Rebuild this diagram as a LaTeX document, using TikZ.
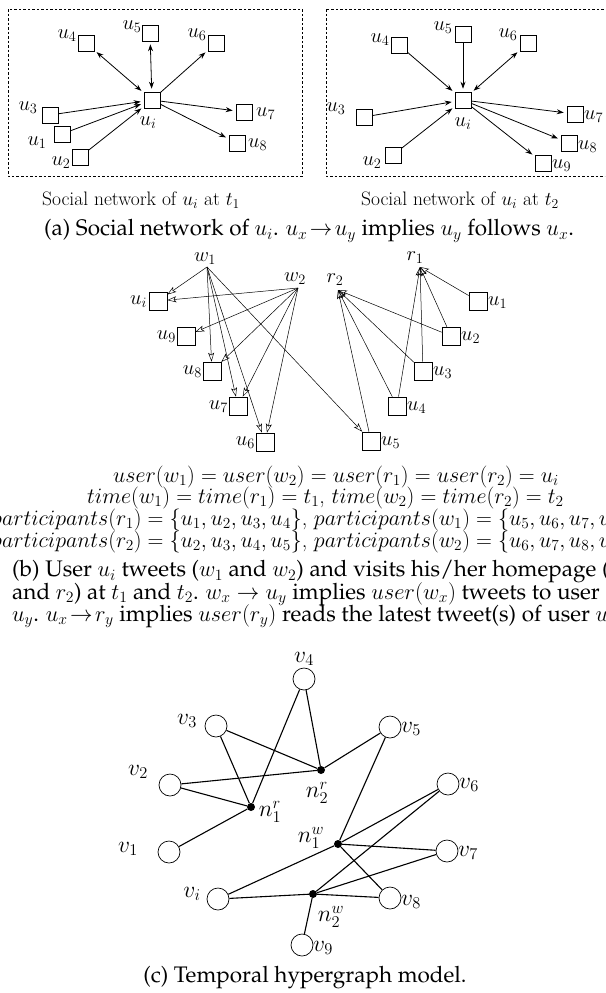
\documentclass[tikz,border=0pt]{standalone}
\usepackage[T1,TU]{fontenc}
\DeclareFontShape{OML}{cmm}{m}{it}{<-6>cmmi5 <6-7>cmmi6 <7-8>cmmi7 <8-9>cmmi8 <9-10>cmmi9 <10-12>cmmi10 <12->cmmi12}{}
\DeclareFontShape{OMS}{cmsy}{m}{n}{<-6>cmsy5 <6-7>cmsy6 <7-8>cmsy7 <8-9>cmsy8 <9-10>cmsy9 <10->cmsy10}{}
\DeclareFontShape{OT1}{cmr}{m}{n}{<-6>cmr5 <6-7>cmr6 <7-8>cmr7 <8-9>cmr8 <9-10>cmr9 <10-12>cmr10 <12-17>cmr12 <17->cmr17}{}
\DeclareFontShape{OMX}{cmex}{m}{n}{<->cmex10}{}
\usetikzlibrary{arrows.meta}
\newcommand\palfont{\fontencoding{T1}\fontfamily{ppl}\selectfont}
\begin{document}
\begin{tikzpicture}[x=1pt,y=-1pt,
  sq/.style={draw, minimum size=16pt, inner sep=0pt, line width=0.6pt},
  sqb/.style={draw, minimum size=18pt, inner sep=0pt, line width=0.6pt},
  lab/.style={inner sep=0pt, font=\fontsize{20.5}{22}\selectfont},
  labc/.style={inner sep=0pt, font=\fontsize{23.5}{25}\selectfont},
  arr/.style={-{Stealth[length=7pt,width=5pt]}, line width=0.8pt, shorten >=3pt},
  barr/.style={{Stealth[length=7pt,width=5pt]}-{Stealth[length=7pt,width=5pt]}, line width=0.8pt, shorten >=3pt, shorten <=3pt},
  oarr/.style={-{Stealth[open,length=9pt,width=6pt,inset=2pt]}, line width=0.5pt},
  circ/.style={draw, circle, minimum size=22pt, inner sep=0pt, line width=0.7pt},
  hdot/.style={fill, circle, minimum size=8pt, inner sep=0pt},
  hedge/.style={line width=1.1pt},
  dbox/.style={draw, dash pattern=on 2.5pt off 2pt, line width=0.6pt},
  captxt/.style={inner sep=0pt, font=\fontsize{22.5}{24}\selectfont\palfont},
  mathtxt/.style={inner sep=0pt, font=\fontsize{22}{22}\selectfont},
  scap/.style={inner sep=0pt, font=\fontsize{19.5}{21}\selectfont}]
\useasboundingbox (0,0) rectangle (605,993);
\clip (0,0) rectangle (605,993);
% ---------- panel (a) left ----------
\draw[dbox] (8,9) rectangle (302,176);
\node[sq] (Lui) at (152,100) {};
\node[sq] (Lu5) at (150,33) {};
\node[sq] (Lu4) at (86,43) {};
\node[sq] (Lu6) at (216,43) {};
\node[sq] (Lu3) at (50,115) {};
\node[sq] (Lu1) at (62,134) {};
\node[sq] (Lu2) at (80,157) {};
\node[sq] (Lu7) at (244,112) {};
\node[sq] (Lu8) at (237,143) {};
\node[lab] (Llui) at (148,123) {$u_i$};
\node[lab] (Llu5) at (132,27) {$u_5$};
\node[lab] (Llu4) at (67,36) {$u_4$};
\node[lab] (Llu6) at (197,35) {$u_6$};
\node[lab] (Llu3) at (28,108) {$u_3$};
\node[lab] (Llu1) at (37,143) {$u_1$};
\node[lab] (Llu2) at (61,163) {$u_2$};
\node[lab, anchor=west] (Llu7) at (256,114) {$u_7$};
\node[lab, anchor=west] (Llu8) at (248,145) {$u_8$};
\draw[barr] (Lu4) -- (Lui);
\draw[barr] (Lu5) -- (Lui);
\draw[arr] (Lui) -- (Lu6);
\draw[arr] (Lu3) -- (Lui);
\draw[arr] (Lu1) -- (Lui);
\draw[arr] (Lu2) -- (Lui);
\draw[arr] (Lui) -- (Lu7);
\draw[arr] (Lui) -- (Lu8);
\node[scap] (Lcap) at (141,200) {Social network of $u_i$ at $t_1$};
% ---------- panel (a) right ----------
\draw[dbox] (326,9) rectangle (615,176);
\node[sq] (Rui) at (463,100) {};
\node[sq] (Ru5) at (463,34) {};
\node[sq] (Ru4) at (399,45) {};
\node[sq] (Ru6) at (528,43) {};
\node[sq] (Ru3) at (364,117) {};
\node[sq] (Ru2) at (393,155) {};
\node[sq] (Ru7) at (575,114) {};
\node[sq] (Ru8) at (569,143) {};
\node[sq] (Ru9) at (543,163) {};
\node[lab] (Rlui) at (463,124) {$u_i$};
\node[lab] (Rlu5) at (443,28) {$u_5$};
\node[lab] (Rlu4) at (380,40) {$u_4$};
\node[lab] (Rlu6) at (508,35) {$u_6$};
\node[lab] (Rlu3) at (336,109) {$u_3$};
\node[lab] (Rlu2) at (372,163) {$u_2$};
\node[lab, anchor=west] (Rlu7) at (584,117) {$u_7$};
\node[lab, anchor=west] (Rlu8) at (578,147) {$u_8$};
\node[lab, anchor=west] (Rlu9) at (552,166) {$u_9$};
\draw[arr] (Ru4) -- (Rui);
\draw[arr] (Ru5) -- (Rui);
\draw[barr] (Ru6) -- (Rui);
\draw[arr] (Ru3) -- (Rui);
\draw[arr] (Ru2) -- (Rui);
\draw[arr] (Rui) -- (Ru7);
\draw[arr] (Rui) -- (Ru8);
\draw[arr] (Rui) -- (Ru9);
\node[scap] (Rcap) at (460,200) {Social network of $u_i$ at $t_2$};
\node[captxt] (capa) at (309,231) {(a) Social network of $u_i$. $u_x\!\rightarrow\! u_y$ implies $u_y$ follows $u_x$.};
% ---------- panel (b) ----------
\coordinate (w1p) at (207,267);
\coordinate (w2p) at (298,288);
\coordinate (r1p) at (420,267);
\coordinate (r2p) at (338,290);
\node[lab] (w1) at (205,259) {$w_1$};
\node[lab] (w2) at (295,279) {$w_2$};
\node[lab] (r1) at (415,258) {$r_1$};
\node[lab] (r2) at (335,280) {$r_2$};
\node[sqb] (Bui) at (158,301) {};
\node[sqb] (Bu9) at (186,336) {};
\node[sqb] (Bu8) at (212,371) {};
\node[sqb] (Bu7) at (238,406) {};
\node[sqb] (Bu6) at (265,442) {};
\node[sqb] (Bu1) at (478,301) {};
\node[sqb] (Bu2) at (451,336) {};
\node[sqb] (Bu3) at (423,371) {};
\node[sqb] (Bu4) at (397,406) {};
\node[sqb] (Bu5) at (371,441) {};
\node[lab, anchor=east] (Blui) at (147,302) {$u_i$};
\node[lab, anchor=east] (Blu9) at (176,337) {$u_9$};
\node[lab, anchor=east] (Blu8) at (202,372) {$u_8$};
\node[lab, anchor=east] (Blu7) at (228,407) {$u_7$};
\node[lab, anchor=east] (Blu6) at (255,443) {$u_6$};
\node[lab, anchor=west] (Blu1) at (488,303) {$u_1$};
\node[lab, anchor=west] (Blu2) at (461,338) {$u_2$};
\node[lab, anchor=west] (Blu3) at (433,373) {$u_3$};
\node[lab, anchor=west] (Blu4) at (407,408) {$u_4$};
\node[lab, anchor=west] (Blu5) at (381,443) {$u_5$};
\draw[oarr] (w1p) -- (Bui);
\draw[oarr] (w1p) -- (Bu8);
\draw[oarr] (w1p) -- (Bu7);
\draw[oarr] (w1p) -- (Bu6);
\draw[oarr] (w1p) -- (Bu5);
\draw[oarr] (w2p) -- (Bui);
\draw[oarr] (w2p) -- (Bu9);
\draw[oarr] (w2p) -- (Bu8);
\draw[oarr] (w2p) -- (Bu7);
\draw[oarr] (w2p) -- (Bu6);
\draw[oarr] (Bu1) -- (r1p);
\draw[oarr] (Bu2) -- (r1p);
\draw[oarr] (Bu3) -- (r1p);
\draw[oarr] (Bu4) -- (r1p);
\draw[oarr] (Bu2) -- (r2p);
\draw[oarr] (Bu3) -- (r2p);
\draw[oarr] (Bu4) -- (r2p);
\draw[oarr] (Bu5) -- (r2p);
\node[mathtxt, anchor=west] (t1) at (113,477) {$user(w_1) = user(w_2) = user(r_1) = user(r_2) = u_i$};
\node[mathtxt, anchor=west] (t2) at (87,498) {$time(w_1) = time(r_1) = t_1$, $time(w_2) = time(r_2) = t_2$};
\node[mathtxt, anchor=west] (t3) at (-9,520) {$participants(r_1) = \{u_1,u_2,u_3,u_4\}$, $participants(w_1) = \{u_5,u_6,u_7,u_8\}$};
\node[mathtxt, anchor=west] (t4) at (-9,542) {$participants(r_2) = \{u_2,u_3,u_4,u_5\}$, $participants(w_2) = \{u_6,u_7,u_8,u_9\}$};
\node[captxt, anchor=west] (cb1) at (12,572) {(b) User $u_i$ tweets ($w_1$ and $w_2$) and visits his/her homepage ($r_1$};
\node[captxt, anchor=west] (cb2) at (12,594) {and $r_2$) at $t_1$ and $t_2$. $w_x \rightarrow u_y$ implies $user(w_x)$ tweets to user};
\node[captxt, anchor=west] (cb3) at (12,616) {$u_y$. $u_x\!\rightarrow\! r_y$ implies $user(r_y)$ reads the latest tweet(s) of user $u_x$.};
% ---------- panel (c) ----------
\node[circ] (v4) at (304,679) {};
\node[circ] (v3) at (216,726) {};
\node[circ] (v5) at (390,727) {};
\node[circ] (v2) at (170,785) {};
\node[circ] (v6) at (448,784) {};
\node[circ] (v1) at (169,852) {};
\node[circ] (v7) at (447,851) {};
\node[circ] (vi) at (218,899) {};
\node[circ] (v8) at (390,898) {};
\node[circ] (v9) at (302,945) {};
\node[hdot] (n1r) at (251,807) {};
\node[hdot] (n2r) at (321,770) {};
\node[hdot] (n1w) at (338,844) {};
\node[hdot] (n2w) at (313,894) {};
\node[labc] (lv4) at (304,659) {$v_4$};
\node[labc] (lv3) at (187,721) {$v_3$};
\node[labc, anchor=west] (lv5) at (401,729) {$v_5$};
\node[labc] (lv2) at (138,772) {$v_2$};
\node[labc, anchor=west] (lv6) at (459,785) {$v_6$};
\node[labc] (lv1) at (128,849) {$v_1$};
\node[labc, anchor=west] (lv7) at (458,853) {$v_7$};
\node[labc] (lvi) at (192,894) {$v_i$};
\node[labc, anchor=west] (lv8) at (401,902) {$v_8$};
\node[labc, anchor=west] (lv9) at (313,948) {$v_9$};
\node[labc] (ln1r) at (270,812) {$n_1^r$};
\node[labc] (ln2r) at (317,793) {$n_2^r$};
\node[labc] (ln1w) at (311,838) {$n_1^w$};
\node[labc] (ln2w) at (331,917) {$n_2^w$};
\draw[hedge] (n1r) -- (v1);
\draw[hedge] (n1r) -- (v2);
\draw[hedge] (n1r) -- (v3);
\draw[hedge] (n1r) -- (v4);
\draw[hedge] (n2r) -- (v2);
\draw[hedge] (n2r) -- (v3);
\draw[hedge] (n2r) -- (v4);
\draw[hedge] (n2r) -- (v5);
\draw[hedge] (n1w) -- (v5);
\draw[hedge] (n1w) -- (v6);
\draw[hedge] (n1w) -- (v7);
\draw[hedge] (n1w) -- (v8);
\draw[hedge] (n1w) -- (vi);
\draw[hedge] (n2w) -- (v6);
\draw[hedge] (n2w) -- (v7);
\draw[hedge] (n2w) -- (v8);
\draw[hedge] (n2w) -- (v9);
\draw[hedge] (n2w) -- (vi);
\node[captxt] (capc) at (305,978) {(c) Temporal hypergraph model.};
\end{tikzpicture}
\end{document}
